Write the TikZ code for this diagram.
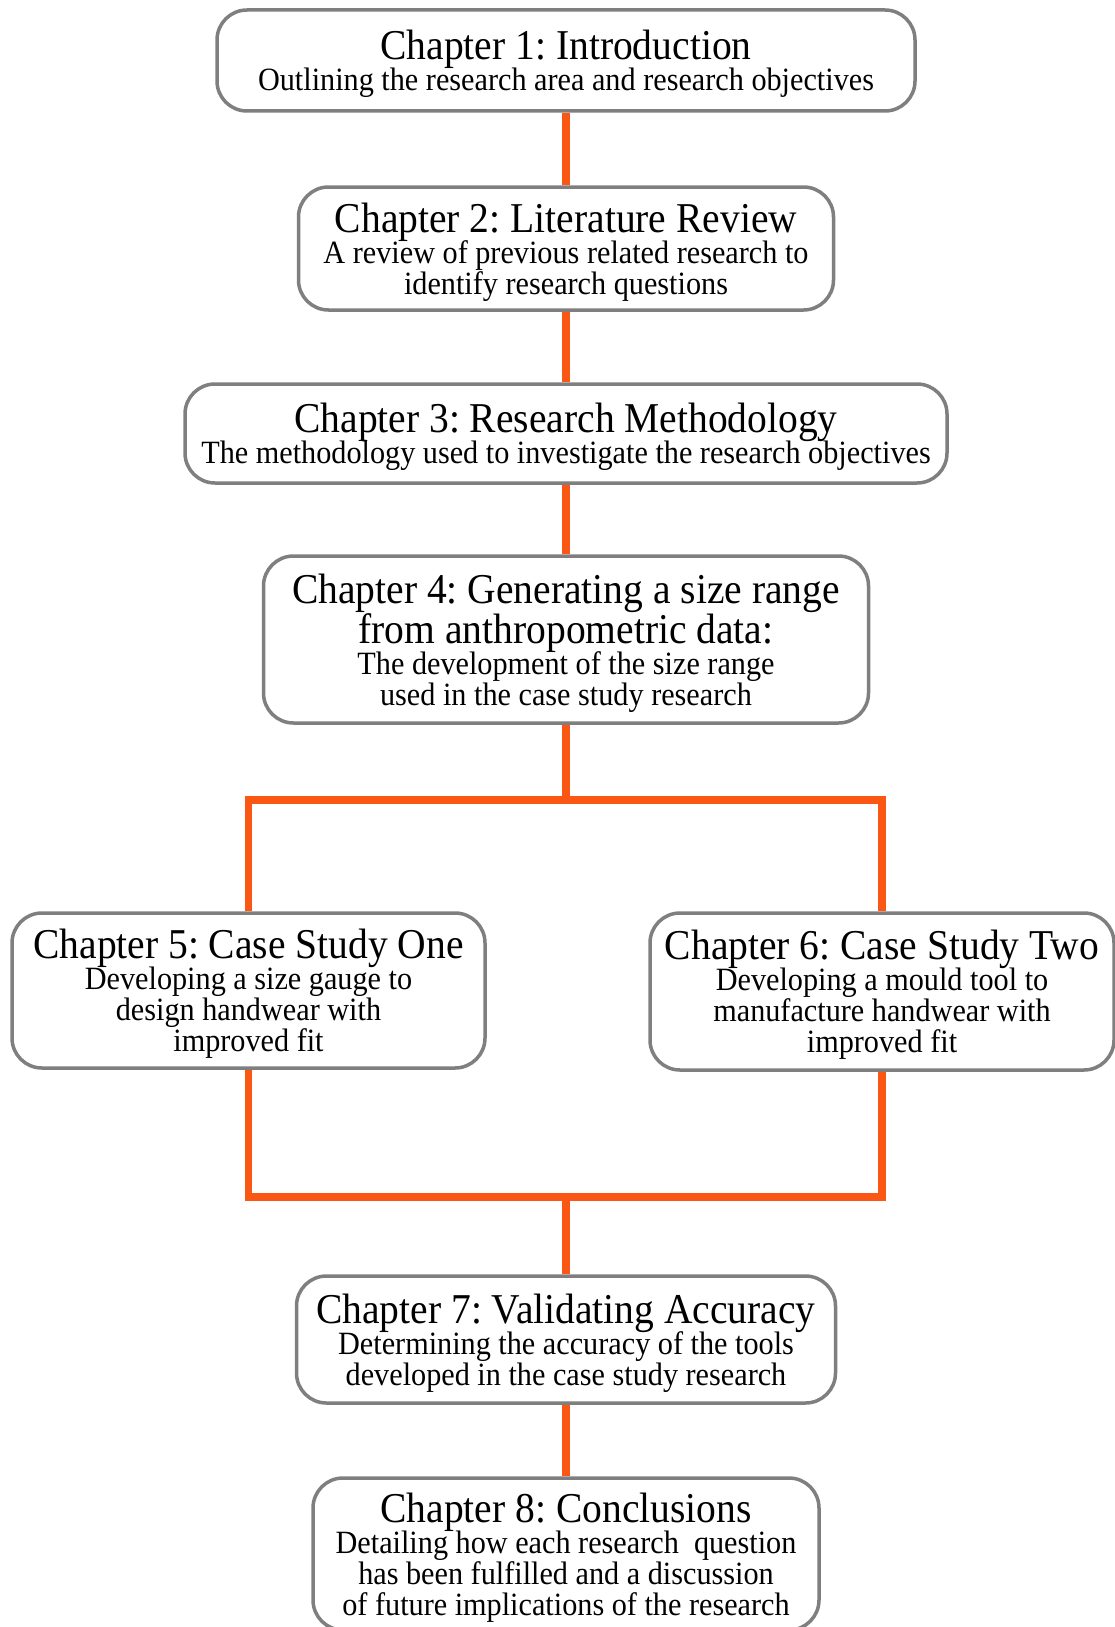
\documentclass[tikz,border=0pt]{standalone}
\usepackage{fontspec}
\setmainfont{Liberation Serif}[FakeStretch=0.93]
\usepackage{tikz}
\usetikzlibrary{positioning}
\definecolor{Frame}{HTML}{7F7F7F}
\definecolor{Link}{HTML}{FA5614}
\newcommand{\headfont}{\fontsize{42.5}{36}\selectfont}
\newcommand{\bodyfont}{\fontsize{32.5}{31}\selectfont}
\frenchspacing
\tikzset{
  chapter/.style={draw=Frame, line width=3.5pt, rounded corners=30pt, fill=white,
    align=center, inner sep=0pt, text=black, font=\bodyfont, text depth=-3pt},
  link/.style={draw=Link, line width=7.5pt},
}

\begin{document}
\begin{tikzpicture}[x=1pt, y=-1pt]
  \useasboundingbox (0,0) rectangle (1114,1627);

  \node[chapter, minimum width=698pt, minimum height=101pt] (ch1) at (566,60.5)
    {\headfont Chapter 1: Introduction\\[-2pt] Outlining the research area and research objectives};
  \node[chapter, minimum width=535pt, minimum height=123pt] (ch2) at (566,248.5)
    {\headfont Chapter 2: Literature Review\\[-2pt] A review of previous related research to\\ identify research questions};
  \node[chapter, minimum width=762pt, minimum height=99pt] (ch3) at (566,433.5)
    {\headfont Chapter 3: Research Methodology\\[-2pt] The methodology used to investigate the research objectives};
  \node[chapter, minimum width=605pt, minimum height=167pt] (ch4) at (566,639.5)
    {\headfont Chapter 4: Generating a size range\\ \headfont from anthropometric data:\\[-2pt] The development of the size range\\ used in the case study research};
  \node[chapter, minimum width=473pt, minimum height=155pt] (ch5) at (248.5,990.5)
    {\headfont Chapter 5: Case Study One\\[-2pt] Developing a size gauge to\\ design handwear with\\ improved fit};
  \node[chapter, minimum width=464pt, minimum height=157pt] (ch6) at (882,991.5)
    {\headfont Chapter 6: Case Study Two\\[-2pt] Developing a mould tool to\\ manufacture handwear with\\ improved fit};
  \node[chapter, minimum width=539pt, minimum height=127pt] (ch7) at (566,1339.5)
    {\headfont Chapter 7: Validating Accuracy\\[-2pt] Determining the accuracy of the tools\\ developed in the case study research};
  \node[chapter, minimum width=506pt, minimum height=152pt] (ch8) at (566,1554)
    {\headfont Chapter 8: Conclusions\\[-2pt] Detailing how each research \ question\\ has been fulfilled and a discussion\\ of future implications of the research};

  % branch and join
  \coordinate (split) at (566,800);
  \coordinate (join) at (566,1197);

  \draw[link] (ch1) -- (ch2);
  \draw[link] (ch2) -- (ch3);
  \draw[link] (ch3) -- (ch4);
  \draw[link] (ch4) -- (split);
  \draw[link] (ch5) |- (split) -| (ch6);
  \draw[link] (ch5) |- (join) -| (ch6);
  \draw[link] (join) -- (ch7);
  \draw[link] (ch7) -- (ch8);
\end{tikzpicture}
\end{document}
